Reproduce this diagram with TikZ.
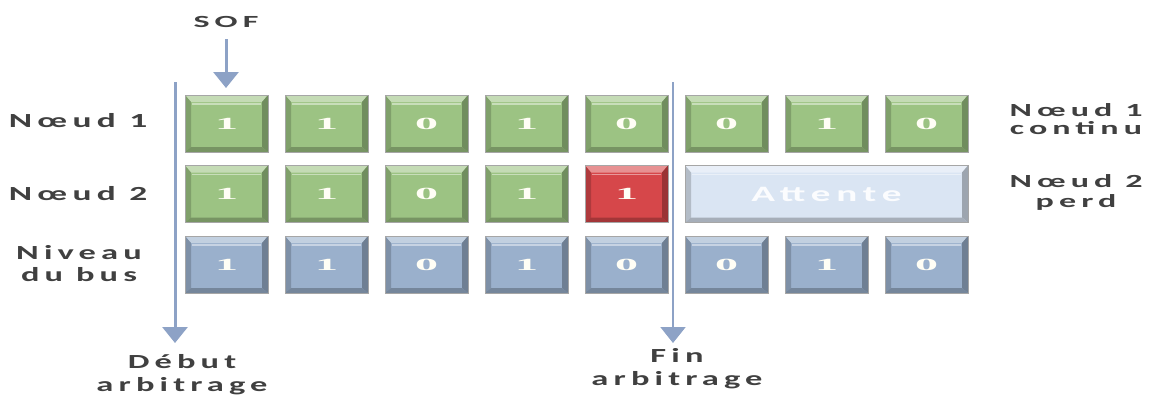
\documentclass[tikz,border=0pt]{standalone}
\usepackage{fontspec}
\usepackage{graphicx}
\usetikzlibrary{arrows.meta}
\newfontfamily\lblfont[LetterSpace=15]{Carlito}
\newfontfamily\digfont{Liberation Serif}
\definecolor{txt}{HTML}{404040}
\definecolor{kgreen}{HTML}{9CC383}
\definecolor{kblue}{HTML}{9AB0CC}
\definecolor{kred}{HTML}{D6474A}
\definecolor{kwait}{HTML}{DAE5F3}
\definecolor{arrc}{HTML}{8DA2C6}
\newcommand{\lbl}[2][1.72]{\scalebox{#1}[1]{\lblfont\bfseries #2}}
\newcommand{\dig}[1]{\scalebox{2.7}[1]{\digfont\bfseries #1}}
\begin{document}
\begin{tikzpicture}[x=1pt,y=-1pt,
  lab/.style={text=txt, inner sep=0pt, align=center, font=\fontsize{20}{22}\selectfont},
  keybox/.style={rectangle, minimum width=83pt, minimum height=57pt, inner sep=0pt,
    fill=#1, draw=gray!70, line width=0.6pt, text=white!96!yellow,
    font=\fontsize{17}{20}\selectfont,
    path picture={
      \coordinate (nw) at (path picture bounding box.north west);
      \coordinate (ne) at (path picture bounding box.north east);
      \coordinate (sw) at (path picture bounding box.south west);
      \coordinate (se) at (path picture bounding box.south east);
      \fill[#1!60!white] (nw) -- (ne) -- ([shift={(-6pt,-7pt)}]ne) -- ([shift={(6pt,-7pt)}]nw) -- cycle;
      \fill[#1!82!black] (nw) -- ([shift={(6pt,-7pt)}]nw) -- ([shift={(6pt,5pt)}]sw) -- (sw) -- cycle;
      \fill[#1!72!black] (ne) -- ([shift={(-6pt,-7pt)}]ne) -- ([shift={(-6pt,5pt)}]se) -- (se) -- cycle;
      \fill[#1!76!black] (sw) -- (se) -- ([shift={(-6pt,5pt)}]se) -- ([shift={(6pt,5pt)}]sw) -- cycle;
      \draw[white, opacity=0.45, line width=1.2pt] ([shift={(7pt,-9pt)}]nw) -- ([shift={(-7pt,-9pt)}]ne);
    }},
  arrline/.style={draw=arrc, line width=3pt, -{Triangle[width=25pt,length=16pt]}}
  ]
\useasboundingbox[fill=white] (0,0) rectangle (1149,394);

% rows
\foreach \b [count=\i from 0] in {1,1,0,1,0,0,1,0}
  \node[keybox=kgreen] (n1-\i) at (226.5+100*\i,123.5) {\dig{\b}};
\foreach \b [count=\i from 0] in {1,1,0,1}
  \node[keybox=kgreen] (n2-\i) at (226.5+100*\i,194) {\dig{\b}};
\node[keybox=kred] (n2-4) at (626.5,194) {\dig{1}};
\node[keybox=kwait, minimum width=283pt, text=white!90!kwait, font=\fontsize{22}{24}\selectfont] (wait) at (826.5,194) {\lbl[1.78]{Attente}};
\foreach \b [count=\i from 0] in {1,1,0,1,0,0,1,0}
  \node[keybox=kblue] (b-\i) at (226.5+100*\i,264.5) {\dig{\b}};

% labels left
\node[lab, anchor=base] (l1) at (78,127) {\lbl[1.77]{Nœud 1}};
\node[lab, anchor=base] (l2) at (78,200) {\lbl[1.77]{Nœud 2}};
\node[lab, anchor=base] (l3) at (79,281) {\lbl{Niveau}\\\lbl{du bus}};
% labels right
\node[lab, anchor=base, font=\fontsize{18.5}{18}\selectfont] (r1) at (1076,134) {\lbl[1.84]{Nœud 1}\\\lbl[1.84]{continu}};
\node[lab, anchor=base, font=\fontsize{18.5}{20}\selectfont] (r2) at (1076,207) {\lbl[1.84]{Nœud 2}\\\lbl[1.84]{perd}};
% top / bottom
\node[lab, anchor=base, font=\fontsize{17}{20}\selectfont] (sof) at (226,27) {\lbl[2.0]{SOF}};
\node[lab, anchor=base, font=\fontsize{20}{23}\selectfont] (deb) at (182,391) {\lbl{Début}\\\lbl{arbitrage}};
\node[lab, anchor=base, font=\fontsize{20}{23}\selectfont] (fin) at (677,385) {\lbl{Fin}\\\lbl{arbitrage}};

% arrows
\coordinate (ltop) at (175,82);
\coordinate (lbot) at (175,343);
\coordinate (rtop) at (673,82);
\coordinate (rbot) at (673,343);
\coordinate (sofend) at (226,88);
\draw[arrline] ([yshift=-12pt]sof.base) -- (sofend);
\draw[arrline] (ltop) -- (lbot);
\draw[arrline, line width=2pt] (rtop) -- (rbot);
\end{tikzpicture}
\end{document}
